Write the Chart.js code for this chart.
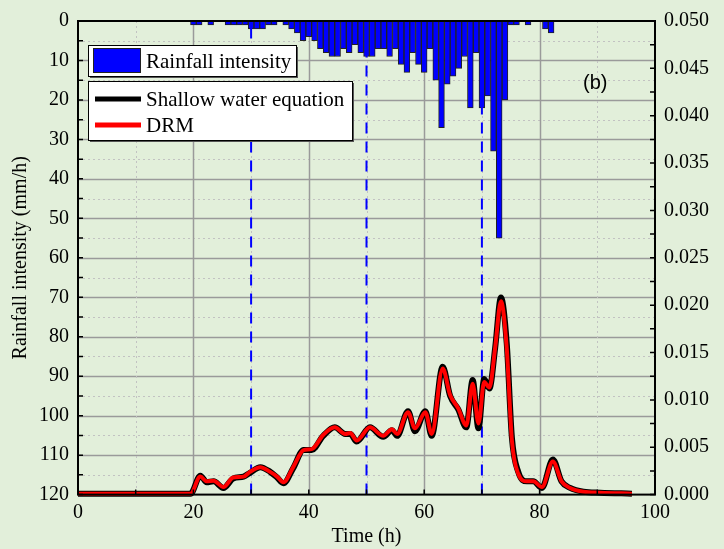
<!DOCTYPE html>
<html>
<head>
<meta charset="utf-8">
<script src="https://cdn.jsdelivr.net/npm/chart.js@4.4.1/dist/chart.umd.min.js"></script>
<style>
  html, body { margin: 0; padding: 0; background: #e2efda; }
</style>
</head>
<body>
<canvas id="myChart" width="724" height="549"></canvas>
<script>
// hourly rainfall (only hours with rain), mm/h
const rainHours = [20, 21, 23, 26, 27, 28, 29, 30, 31, 32, 33, 34, 36, 37, 38, 39, 40, 41, 42, 43, 44, 45,
  46, 47, 48, 49, 50, 51, 52, 53, 54, 55, 56, 57, 58, 59, 60, 61, 62, 63, 64, 65, 66, 67, 68, 69, 70, 71,
  72, 73, 74, 75, 76, 78, 81, 82];
const rainValues = [1, 1, 1, 1, 1, 1, 1, 2, 2, 2, 1, 1, 1, 2, 3, 5, 4, 5, 7, 8, 9, 9,
  7, 8, 6, 8, 9, 9, 7, 7, 9, 7, 11, 13, 8, 11, 13, 7, 15, 27, 16, 14, 12, 9, 22, 8, 22, 19,
  33, 55, 20, 1, 1, 1, 2, 3];

// outflow curves (right axis)
const flowTimes = [0, 19.5, 21.2, 22.3, 23.5, 25.2, 26.9, 28.7, 29.8, 31.6, 33.3, 34.5, 35.6, 37.3, 39.1,
  40.5, 42.5, 44.5, 46.3, 47.2, 48.3, 50.6, 52.9, 54.4, 55.3, 57.2, 58.4, 60.2, 61.3, 63.2, 64.5, 65.9,
  67.3, 68.4, 69.4, 70.4, 71.3, 72.3, 73.3, 74.3, 75.2, 76.3, 77.8, 78.9, 80.4, 82.3, 83.8, 85.3, 87.6, 90.5, 96];
const sweValues = [0.0001, 0.0001, 0.0020, 0.0013, 0.0014, 0.0007, 0.0017, 0.0019, 0.0023, 0.0029, 0.0024,
  0.0018, 0.0012, 0.0028, 0.0047, 0.0047, 0.0062, 0.0071, 0.0064, 0.0064, 0.0056, 0.0071, 0.0061, 0.0068,
  0.0062, 0.0088, 0.0067, 0.0088, 0.0062, 0.0135, 0.0104, 0.0090, 0.0071, 0.0121, 0.0070, 0.0122, 0.0112,
  0.0155, 0.0208, 0.0160, 0.0060, 0.0024, 0.0014, 0.0014, 0.0007, 0.0037, 0.0014, 0.0007, 0.0003, 0.0002, 0.0001];
const drmValues = [0.0001, 0.0001, 0.0019, 0.0014, 0.00146, 0.0008, 0.0018, 0.0019, 0.0024, 0.0029, 0.0024,
  0.0019, 0.0013, 0.0029, 0.0047, 0.0048, 0.0063, 0.0071, 0.0064, 0.0065, 0.0057, 0.0071, 0.0062, 0.0069,
  0.0064, 0.0087, 0.0070, 0.0087, 0.0064, 0.0133, 0.0105, 0.0091, 0.0073, 0.0117, 0.0075, 0.0119, 0.0113,
  0.0155, 0.0204, 0.0155, 0.0057, 0.0022, 0.0014, 0.0014, 0.0008, 0.0035, 0.0014, 0.0007, 0.0003, 0.0002, 0.0001];

// vertical dashed markers (h)
const markerTimes = [30, 50, 70];

const serif = 'Liberation Serif, Times New Roman, serif';

const markerSets = markerTimes.map(t => ({
    type: 'line',
    label: 'marker',
    data: [{ x: t, y: 0 }, { x: t, y: 0.05 }],
    yAxisID: 'y1',
    borderColor: '#0000ff',
    borderWidth: 2,
    borderDash: [11, 8],
    pointRadius: 0,
    order: 2
}));

// grid, frame, inward ticks, legend boxes and panel label
const decorations = {
    id: 'decorations',
    beforeDatasetsDraw(chart) {
        const { ctx, chartArea: a, scales: { x, y } } = chart;
        ctx.save();
        ctx.lineWidth = 1;
        for (let v = 5; v < 120; v += 5) {
            const py = Math.round(y.getPixelForValue(v)) + 0.5;
            ctx.strokeStyle = v % 10 === 0 ? '#9a9a9a' : '#c2c2c2';
            ctx.lineWidth = v % 10 === 0 ? 1.5 : 1;
            ctx.setLineDash(v % 10 === 0 ? [] : [2, 3]);
            ctx.beginPath(); ctx.moveTo(a.left, py); ctx.lineTo(a.right, py); ctx.stroke();
        }
        for (let t = 10; t < 100; t += 10) {
            const px = Math.round(x.getPixelForValue(t)) + 0.5;
            ctx.strokeStyle = t % 20 === 0 ? '#9a9a9a' : '#c2c2c2';
            ctx.lineWidth = t % 20 === 0 ? 1.5 : 1;
            ctx.setLineDash(t % 20 === 0 ? [] : [2, 3]);
            ctx.beginPath(); ctx.moveTo(px, a.top); ctx.lineTo(px, a.bottom); ctx.stroke();
        }
        ctx.restore();
    },
    afterDraw(chart) {
        const { ctx, chartArea: a, scales: { x, y, y1 } } = chart;
        ctx.save();
        ctx.strokeStyle = '#000';
        ctx.lineWidth = 1.5;
        // inward ticks
        ctx.beginPath();
        for (let v = 0; v <= 120; v += 5) {
            const py = y.getPixelForValue(v);
            ctx.moveTo(a.left, py); ctx.lineTo(a.left + 5, py);
        }
        for (let v = 0; v <= 0.05001; v += 0.0025) {
            const py = y1.getPixelForValue(v);
            ctx.moveTo(a.right, py); ctx.lineTo(a.right - 5, py);
        }
        for (let t = 0; t <= 100; t += 10) {
            const px = x.getPixelForValue(t);
            ctx.moveTo(px, a.bottom); ctx.lineTo(px, a.bottom - 5);
        }
        ctx.stroke();
        // frame
        ctx.lineWidth = 2;
        ctx.strokeRect(a.left, a.top, a.right - a.left, a.bottom - a.top);

        const sets = chart.data.datasets;
        const rain = sets.find(d => d.label === 'Rainfall intensity');
        const swe = sets.find(d => d.label === 'Shallow water equation');
        const drm = sets.find(d => d.label === 'DRM');

        function box(bx, by, bw, bh) {
            ctx.fillStyle = '#555';
            ctx.fillRect(bx + 2, by + 2, bw, bh);
            ctx.fillStyle = '#fff';
            ctx.fillRect(bx, by, bw, bh);
            ctx.lineWidth = 1;
            ctx.strokeStyle = '#000';
            ctx.strokeRect(bx + 0.5, by + 0.5, bw, bh);
        }
        ctx.font = '21px ' + serif;
        ctx.textBaseline = 'middle';
        ctx.textAlign = 'left';

        box(88, 45, 208, 31);
        ctx.fillStyle = rain.backgroundColor;
        ctx.fillRect(93, 48, 48, 25);
        ctx.strokeStyle = '#222';
        ctx.strokeRect(93.5, 48.5, 47, 24);
        ctx.fillStyle = '#000';
        ctx.fillText(rain.label, 146, 62);

        box(88, 81, 264, 59);
        [[swe, 99], [drm, 125]].forEach(([d, ly]) => {
            ctx.strokeStyle = d.borderColor;
            ctx.lineWidth = 5;
            ctx.beginPath(); ctx.moveTo(95, ly); ctx.lineTo(141, ly); ctx.stroke();
            ctx.fillStyle = '#000';
            ctx.fillText(d.label, 146, ly + 1);
        });

        ctx.font = '20px Liberation Sans, Arial, sans-serif';
        ctx.fillText('(b)', 583, 83);
        ctx.restore();
    }
};

const ctx = document.getElementById('myChart').getContext('2d');
const chart = new Chart(ctx, {
    type: 'line',
    data: {
        datasets: [{
            type: 'line',
            label: 'DRM',
            data: flowTimes.map((t, i) => ({ x: t, y: drmValues[i] })),
            yAxisID: 'y1',
            borderColor: '#ff0000',
            borderWidth: 4,
            pointRadius: 0,
            cubicInterpolationMode: 'monotone',
            clip: false,
            order: 0
        }, {
            type: 'line',
            label: 'Shallow water equation',
            data: flowTimes.map((t, i) => ({ x: t, y: sweValues[i] })),
            yAxisID: 'y1',
            borderColor: '#000000',
            borderWidth: 6,
            pointRadius: 0,
            cubicInterpolationMode: 'monotone',
            clip: false,
            order: 1
        }, ...markerSets, {
            type: 'bar',
            label: 'Rainfall intensity',
            data: rainHours.map((h, i) => ({ x: h, y: rainValues[i] })),
            yAxisID: 'y',
            backgroundColor: '#0000ff',
            borderColor: '#222222',
            borderWidth: 1,
            borderSkipped: false,
            barPercentage: 1,
            categoryPercentage: 1,
            order: 3
        }]
    },
    options: {
        responsive: false,
        animation: false,
        layout: { padding: { top: 19, left: 0, right: 0, bottom: 0 } },
        plugins: {
            legend: { display: false },
            tooltip: { enabled: false }
        },
        scales: {
            x: {
                type: 'linear',
                min: 0,
                max: 100,
                offset: false,
                grid: { display: false, drawTicks: false },
                border: { display: false },
                ticks: { stepSize: 20, padding: 6, color: '#000', font: { family: serif, size: 20 } },
                title: { display: true, text: 'Time (h)', color: '#000', padding: { top: 0, bottom: 0 },
                    font: { family: serif, size: 20 } },
                afterFit(scale) { scale.height = 54.4; }
            },
            y: {
                position: 'left',
                min: 0,
                max: 120,
                reverse: true,
                grid: { display: false, drawTicks: false },
                border: { display: false },
                ticks: { stepSize: 10, padding: 9, color: '#000', font: { family: serif, size: 20 } },
                title: { display: true, text: 'Rainfall intensity (mm/h)', color: '#000',
                    padding: { top: 9, bottom: 0 }, font: { family: serif, size: 20 } },
                afterFit(scale) { scale.width = 78; }
            },
            y1: {
                position: 'right',
                min: 0,
                max: 0.05,
                grid: { display: false, drawTicks: false },
                border: { display: false },
                ticks: { stepSize: 0.005, padding: 9, color: '#000', font: { family: serif, size: 20 },
                    callback: v => v.toFixed(3) },
                afterFit(scale) { scale.width = 69; }
            }
        }
    },
    plugins: [decorations]
});
</script>
</body>
</html>
